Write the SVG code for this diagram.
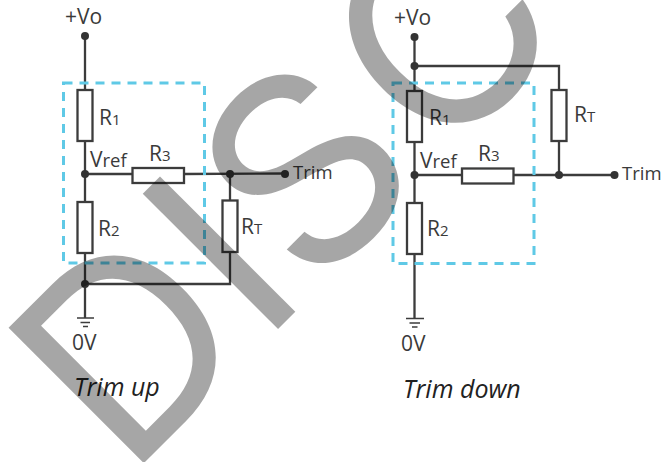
<svg xmlns="http://www.w3.org/2000/svg" width="664" height="462" viewBox="0 0 664 462">
<style>
.w{fill:none;stroke:#3c3c3c;stroke-width:2.300}
.r{fill:#fff;stroke:#3c3c3c;stroke-width:2.300}
.d{fill:#333}
.b{fill:none;stroke:#5fc9e6;stroke-width:3;stroke-dasharray:9 7}
text{font-family:"Open Sans","Noto Sans",sans-serif;fill:#3a3a3a}
.l{font-size:21px}
.s{font-size:15px}
.n{font-size:18.500px}
.c{font-size:25px;font-style:italic;fill:#222}
</style>
<g id="connectors">
<path class="w" d="M85 36V90M85 141V202M85 253V318M85 174H132.500M184 174L285 173.500M230 174V200.500M230 252V284H85"/>
<path class="w" d="M414.500 37V91M414.500 142V203M414.500 254V318M414.500 175H462M513.500 175H614.500M414.500 66H559V90M559 141V175"/>
<path class="w" style="stroke-width:1.600" d="M77 318H94M80.500 322.500H90M83 326.500H88M406 318.500H424M409.500 323H420M412 327H417.500"/>
</g>
<g id="box-up"><rect class="b" x="63.500" y="83" width="141" height="180"/></g>
<g id="box-down"><rect class="b" x="393" y="83" width="141" height="180.500"/></g>
<g id="up-R1"><rect class="r" x="77.500" y="90" width="15" height="51"/><text class="l" x="99" y="125">R<tspan class="s">1</tspan></text></g>
<g id="up-R2"><rect class="r" x="77.500" y="202" width="15" height="51"/><text class="l" x="98" y="236">R<tspan class="s">2</tspan></text></g>
<g id="up-R3"><rect class="r" x="132.500" y="168" width="51.500" height="15"/><text class="l" x="149" y="161">R<tspan class="s">3</tspan></text></g>
<g id="up-RT"><rect class="r" x="222.500" y="200.500" width="15" height="51.500"/><text class="l" x="241" y="234">R<tspan class="s">T</tspan></text></g>
<g id="up-Vo"><circle class="d" cx="85" cy="36" r="4"/><text class="l" x="65" y="24">+Vo</text></g>
<g id="up-Vref"><circle class="d" cx="85" cy="174" r="4"/><text class="l" x="90" y="167">V<tspan class="n">ref</tspan></text></g>
<g id="up-node"><circle class="d" cx="230" cy="174" r="4"/></g>
<g id="up-Trim"><circle class="d" cx="285" cy="174" r="4"/><text class="n" x="293" y="179">Trim</text></g>
<g id="up-gnd"><circle class="d" cx="85" cy="284" r="4"/><text class="l" x="72" y="350">0V</text></g>
<text id="up-title" class="c" x="74" y="396">Trim up</text>
<g id="dn-R1"><rect class="r" x="407" y="91" width="15" height="51"/><text class="l" x="429" y="125">R<tspan class="s">1</tspan></text></g>
<g id="dn-R2"><rect class="r" x="407" y="203" width="15" height="51"/><text class="l" x="427" y="236">R<tspan class="s">2</tspan></text></g>
<g id="dn-R3"><rect class="r" x="462" y="168.500" width="51.500" height="15"/><text class="l" x="478" y="161">R<tspan class="s">3</tspan></text></g>
<g id="dn-RT"><rect class="r" x="551.500" y="90" width="15" height="51"/><text class="l" x="574" y="122">R<tspan class="s">T</tspan></text></g>
<g id="dn-Vo"><circle class="d" cx="414.500" cy="37" r="4"/><text class="l" x="394" y="25">+Vo</text></g>
<g id="dn-top"><circle class="d" cx="414.500" cy="66" r="4"/></g>
<g id="dn-Vref"><circle class="d" cx="414.500" cy="175" r="4"/><text class="l" x="420" y="168">V<tspan class="n">ref</tspan></text></g>
<g id="dn-node"><circle class="d" cx="559" cy="175" r="4"/></g>
<g id="dn-Trim"><circle class="d" cx="614.500" cy="175" r="4"/><text class="n" x="622" y="180">Trim</text></g>
<g id="dn-gnd"><text class="l" x="401" y="351">0V</text></g>
<text id="dn-title" class="c" x="403" y="398">Trim down</text>
<text id="watermark" transform="translate(127.500 479.500) rotate(-45)" font-size="263" style="font-family:Inter,sans-serif;fill:#000;fill-opacity:.35">DIS<tspan dx="12">C</tspan></text>
</svg>
